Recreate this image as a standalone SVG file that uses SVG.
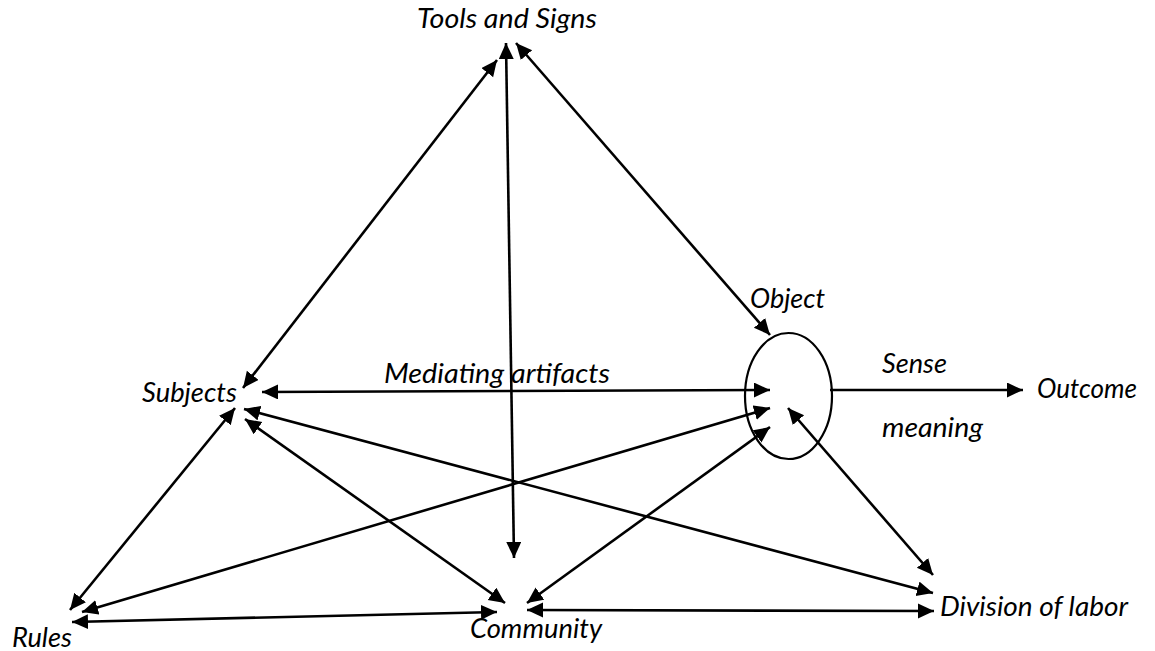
<svg xmlns="http://www.w3.org/2000/svg" width="1155" height="651" viewBox="0 0 1155 651">
<style>
.lbl{font-family:Lato,"Open Sans","Liberation Sans",sans-serif;font-style:italic;font-size:27px;fill:#000}
.c{stroke:#000;stroke-width:2.6;fill:none}
</style>
<defs>
<marker id="ah" markerUnits="userSpaceOnUse" markerWidth="17" markerHeight="16" refX="16" refY="7.5" orient="auto-start-reverse" viewBox="0 0 17 16">
<path d="M0,0 L16,7.5 L0,15 z" fill="#000"/>
</marker>
</defs>
<rect width="1155" height="651" fill="#fff"/>
<g id="connectors">
<line class="c" x1="497" y1="60" x2="243" y2="388" marker-start="url(#ah)" marker-end="url(#ah)"/>
<line class="c" x1="506" y1="43" x2="514" y2="558" marker-start="url(#ah)" marker-end="url(#ah)"/>
<line class="c" x1="516" y1="43" x2="770" y2="335" marker-start="url(#ah)" marker-end="url(#ah)"/>
<line class="c" x1="262" y1="392" x2="770" y2="390" marker-start="url(#ah)" marker-end="url(#ah)"/>
<line class="c" x1="235" y1="408" x2="70" y2="610" marker-start="url(#ah)" marker-end="url(#ah)"/>
<line class="c" x1="245" y1="419" x2="505" y2="603" marker-start="url(#ah)" marker-end="url(#ah)"/>
<line class="c" x1="244" y1="409" x2="933" y2="593" marker-start="url(#ah)" marker-end="url(#ah)"/>
<line class="c" x1="82" y1="612" x2="770" y2="408" marker-start="url(#ah)" marker-end="url(#ah)"/>
<line class="c" x1="72" y1="622" x2="497" y2="612" marker-start="url(#ah)" marker-end="url(#ah)"/>
<line class="c" x1="527" y1="603" x2="770" y2="427" marker-start="url(#ah)" marker-end="url(#ah)"/>
<line class="c" x1="527" y1="610" x2="934" y2="611" marker-start="url(#ah)" marker-end="url(#ah)"/>
<line class="c" x1="788" y1="408" x2="933" y2="575" marker-start="url(#ah)" marker-end="url(#ah)"/>
<line class="c" x1="830" y1="390" x2="1023" y2="390" marker-end="url(#ah)"/>
</g>
<g id="tools"><text class="lbl" x="417" y="28" textLength="180" lengthAdjust="spacingAndGlyphs">Tools and Signs</text></g>
<g id="subjects"><text class="lbl" x="142" y="402" textLength="95" lengthAdjust="spacingAndGlyphs">Subjects</text></g>
<g id="mediating"><text class="lbl" x="384" y="383" textLength="226" lengthAdjust="spacingAndGlyphs">Mediating artifacts</text></g>
<g id="object">
<ellipse cx="788.5" cy="396" rx="43.5" ry="63" fill="none" stroke="#000" stroke-width="2.2"/>
<text class="lbl" x="750" y="308" textLength="75" lengthAdjust="spacingAndGlyphs">Object</text>
</g>
<g id="sense"><text class="lbl" x="882" y="373" textLength="65" lengthAdjust="spacingAndGlyphs">Sense</text></g>
<g id="meaning"><text class="lbl" x="882" y="437" textLength="101" lengthAdjust="spacingAndGlyphs">meaning</text></g>
<g id="outcome"><text class="lbl" x="1037" y="398" textLength="100" lengthAdjust="spacingAndGlyphs">Outcome</text></g>
<g id="rules"><text class="lbl" x="12" y="647" textLength="60" lengthAdjust="spacingAndGlyphs">Rules</text></g>
<g id="community"><text class="lbl" x="470" y="638" textLength="132" lengthAdjust="spacingAndGlyphs">Community</text></g>
<g id="division"><text class="lbl" x="940" y="616" textLength="188" lengthAdjust="spacingAndGlyphs">Division of labor</text></g>
</svg>
